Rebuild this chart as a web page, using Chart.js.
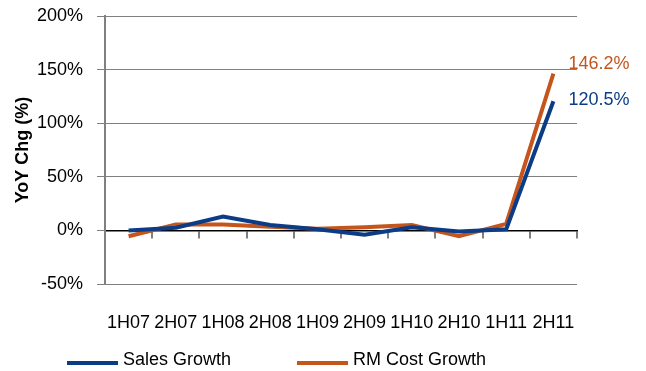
<!DOCTYPE HTML>
<html>
<head>
<meta charset="utf-8" />
<title>YoY Chg</title>
<script src="https://cdn.jsdelivr.net/npm/chart.js@4.4.0/dist/chart.umd.min.js"></script>
<style>
	body { margin: 0; background: #fff; }
	#wrap { width: 646px; height: 371px; }
</style>
</head>
<body>
<div id="wrap"><canvas id="line_chart"></canvas></div>

<script>
var periods = ['1H07', '2H07', '1H08', '2H08', '1H09', '2H09', '1H10', '2H10', '1H11', '2H11'];
var salesGrowth = [0, 2.5, 13, 5, 1, -4, 3, -1, 1, 120.5];
var rmCostGrowth = [-5.5, 5.5, 5.5, 3.5, 1.5, 3, 5, -5.5, 6, 146.2];
var yTicks = [-50, 0, 50, 100, 150, 200];

var BLUE = '#0b3c85';
var ORANGE = '#c4561d';
var FONT = "'Liberation Sans', Arial, sans-serif";
var FSIZE = 18;

// end labels next to the last points
var endLabels = {
	id: 'endLabels',
	afterDatasetsDraw: function(chart) {
		var ctx = chart.ctx;
		var x = chart.scales.x;
		var y = chart.scales.y;
		var last = periods.length - 1;
		ctx.save();
		ctx.font = FSIZE + 'px ' + FONT;
		ctx.textBaseline = 'middle';
		ctx.textAlign = 'left';
		ctx.fillStyle = ORANGE;
		ctx.fillText(rmCostGrowth[last].toFixed(1) + '%', x.getPixelForValue(last) + 15, y.getPixelForValue(rmCostGrowth[last]) - 10);
		ctx.fillStyle = BLUE;
		ctx.fillText(salesGrowth[last].toFixed(1) + '%', x.getPixelForValue(last) + 15, y.getPixelForValue(salesGrowth[last]) - 1);
		ctx.restore();
	}
};

// bottom legend with long line swatches
var lineLegend = {
	id: 'lineLegend',
	afterDraw: function(chart) {
		var ctx = chart.ctx;
		var starts = [67, 297];
		var yy = 362;
		ctx.save();
		ctx.font = FSIZE + 'px ' + FONT;
		ctx.textBaseline = 'middle';
		chart.data.datasets.forEach(function(ds, i) {
			ctx.strokeStyle = ds.borderColor;
			ctx.lineWidth = 4;
			ctx.beginPath();
			ctx.moveTo(starts[i], yy + 1);
			ctx.lineTo(starts[i] + 51, yy + 1);
			ctx.stroke();
			ctx.fillStyle = '#000';
			ctx.fillText(ds.label, starts[i] + 56, yy - 2);
		});
		ctx.restore();
	}
};

new Chart(document.getElementById('line_chart'), {
	type: 'line',
	data: {
		labels: periods,
		datasets: [
			{ label: 'Sales Growth', data: salesGrowth, borderColor: BLUE, backgroundColor: BLUE, borderWidth: 4, pointRadius: 0, tension: 0 },
			{ label: 'RM Cost Growth', data: rmCostGrowth, borderColor: ORANGE, backgroundColor: ORANGE, borderWidth: 4, pointRadius: 0, tension: 0 }
		]
	},
	options: {
		responsive: true,
		maintainAspectRatio: false,
		animation: false,
		layout: { padding: { left: 10, right: 69, top: 16, bottom: 30 } },
		plugins: {
			legend: { display: false },
			tooltip: { enabled: false }
		},
		scales: {
			x: {
				type: 'category',
				offset: true,
				afterFit: function(scale) { scale.height = 57; },
				grid: { display: false, drawTicks: false },
				border: { display: false },
				ticks: { color: '#000', font: { family: FONT, size: FSIZE }, padding: 28, maxRotation: 0, autoSkip: false }
			},
			x2: {
				type: 'category',
				labels: periods,
				position: { y: 0 },
				offset: true,
				afterFit: function(scale) { scale.height = 0; },
				grid: { offset: true, drawOnChartArea: false, tickLength: 7, color: '#808080', lineWidth: 2 },
				border: { color: '#000', width: 1.5 },
				ticks: { display: false }
			},
			y: {
				min: -50,
				max: 200,
				afterBuildTicks: function(scale) {
					scale.ticks = yTicks.map(function(v) { return { value: v }; });
				},
				afterFit: function(scale) { scale.width = 95; scale.paddingTop = 0; scale.paddingBottom = 0; },
				grid: { color: '#808080', tickLength: 8 },
				border: { color: '#808080', width: 2 },
				ticks: {
					color: '#000',
					font: { family: FONT, size: FSIZE },
					padding: 14,
					callback: function(v) { return v + '%'; }
				},
				title: {
					display: true,
					text: 'YoY Chg (%)',
					color: '#000',
					font: { family: FONT, size: FSIZE, weight: 'bold' },
					padding: { top: 2, bottom: 2 }
				}
			}
		}
	},
	plugins: [endLabels, lineLegend]
});
</script>
</body>
</html>
